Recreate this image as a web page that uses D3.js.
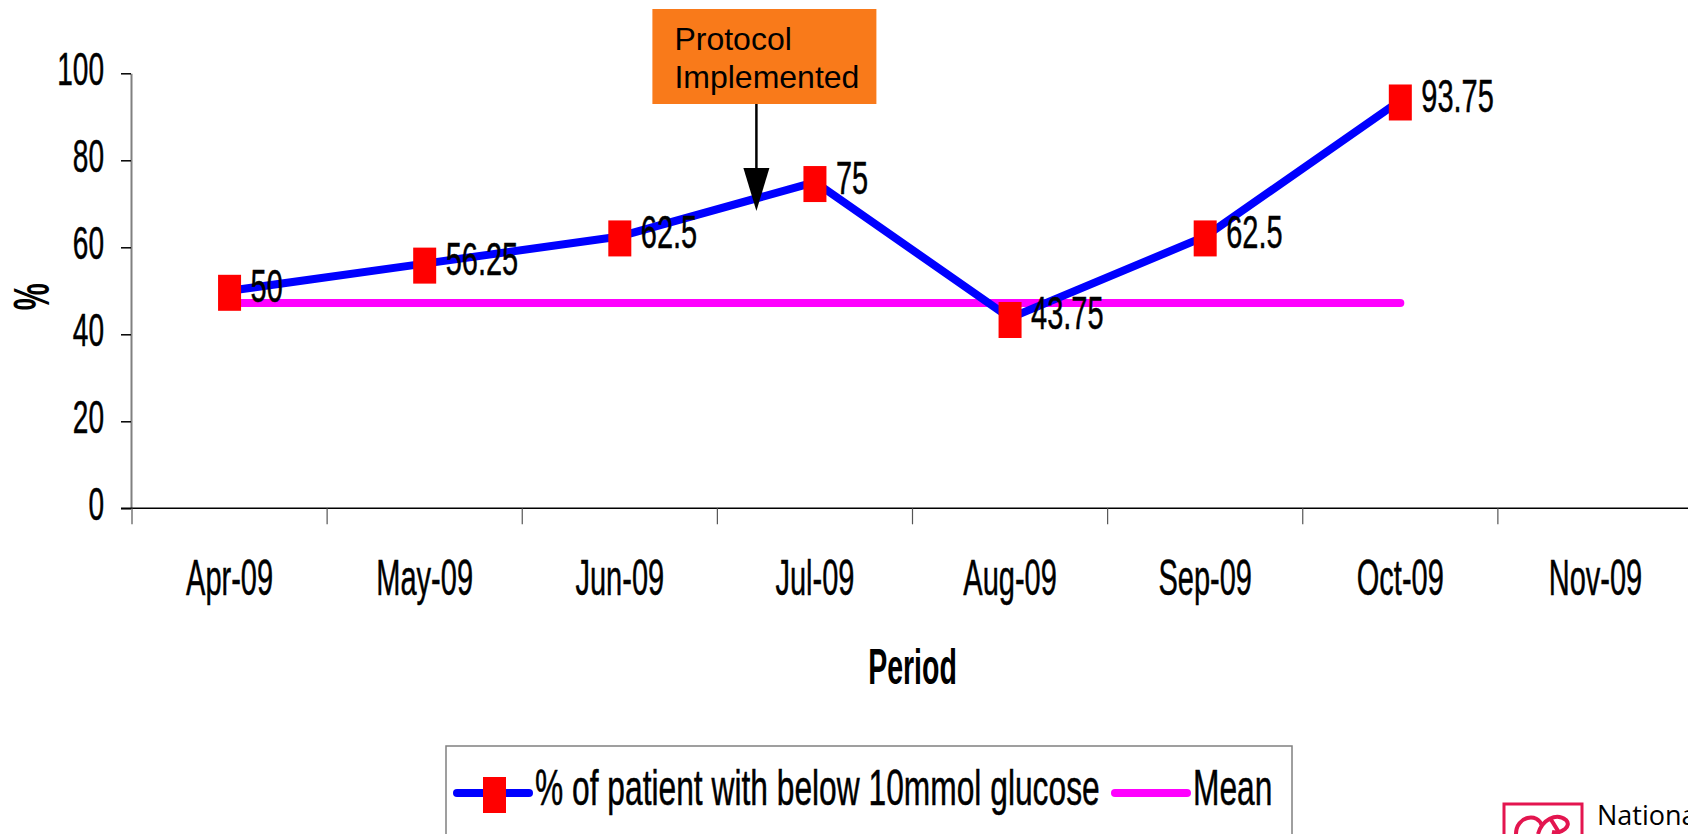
<!DOCTYPE html>
<html>
<head>
<meta charset="UTF-8">
<style>
  body { margin: 0; background: #fff; overflow: hidden; }
  svg { display: block; }
  text { font-family: "Liberation Sans", Arial, Helvetica, sans-serif; fill: #000; }
  text.narrow { stroke: #000; stroke-width: 0.5px; }
</style>
</head>
<body>
<svg></svg>
<script src="https://d3js.org/d3.v7.min.js"></script>
<script>

// data
const periods = ["Apr-09", "May-09", "Jun-09", "Jul-09", "Aug-09", "Sep-09", "Oct-09", "Nov-09"];
const pctBelow10 = [50, 56.25, 62.5, 75, 43.75, 62.5, 93.75];
const meanValue = 47.2;
const yTicks = [0, 20, 40, 60, 80, 100];
const seriesNames = ["% of patient with below 10mmol glucose", "Mean"];
const noteLines = ["Protocol", "Implemented"];
const notePeriod = "Jun-09", noteOffset = 0.7;   // arrow sits 0.7 of the way Jun -> Jul

let width = 1688, height = 834;

let svg = d3.select("svg")
    .attr("width", width)
    .attr("height", height);

let x = d3.scaleBand().domain(periods).range([132, 1693]);
let y = d3.scaleLinear().domain([0, 100]).range([508.3, 73.3]);
let cx = d => x(d) + x.bandwidth() / 2;

// the original uses a very narrow font, so squeeze normal text horizontally
function label(g, px, py, str, size, sx, anchor, weight) {
    return g.append("text")
        .attr("class", weight ? null : "narrow")
        .attr("transform", `translate(${px},${py}) scale(${sx},1)`)
        .attr("text-anchor", anchor || "start")
        .style("font-size", size + "px")
        .style("font-weight", weight || "normal")
        .text(str);
}

// y axis
let yAxis = svg.append("g")
    .attr("transform", "translate(131,0)")
    .call(d3.axisLeft(y).tickValues(yTicks).tickSize(10).tickSizeOuter(0).tickFormat(""));
yAxis.select(".domain").attr("stroke", "#808080").attr("stroke-width", 2);
yAxis.selectAll(".tick line").attr("stroke", "#000").attr("stroke-width", 1.5);

yTicks.forEach(t => label(svg, 104, y(t) + 12, t, 46, 0.61, "end"));

// x axis: plain line with ticks on the category boundaries
let xAxis = svg.append("g");
xAxis.append("line")
    .attr("x1", 121).attr("x2", width)
    .attr("y1", y(0)).attr("y2", y(0))
    .attr("stroke", "#000").attr("stroke-width", 1.5);

xAxis.selectAll("line.tick")
    .data(periods)
    .enter().append("line")
    .attr("class", "tick")
    .attr("x1", d => x(d)).attr("x2", d => x(d))
    .attr("y1", y(0)).attr("y2", y(0) + 16)
    .attr("stroke", "#555").attr("stroke-width", 1.2);

periods.forEach(p => label(xAxis, cx(p), 595, p, 50, 0.58, "middle"));

// axis titles
label(svg, (x.range()[0] + x.range()[1]) / 2, 684, "Period", 50, 0.57, "middle", "bold");
svg.append("text")
    .attr("transform", `translate(49,${(y(0) + y(100)) / 2 + 6}) rotate(-90) scale(0.61,1)`)
    .attr("text-anchor", "middle")
    .style("font-size", "50px")
    .style("font-weight", "bold")
    .text("%");

// mean line
svg.append("line")
    .attr("x1", cx(periods[0]))
    .attr("x2", cx(periods[pctBelow10.length - 1]))
    .attr("y1", y(meanValue)).attr("y2", y(meanValue))
    .attr("stroke", "#ff00ff")
    .attr("stroke-width", 8)
    .attr("stroke-linecap", "round");

// main series
let line = d3.line()
    .x((d, i) => cx(periods[i]))
    .y(d => y(d));

svg.append("path")
    .datum(pctBelow10)
    .attr("d", line)
    .attr("fill", "none")
    .attr("stroke", "#0000ff")
    .attr("stroke-width", 8)
    .attr("stroke-linejoin", "round");

svg.selectAll("rect.marker")
    .data(pctBelow10)
    .enter().append("rect")
    .attr("class", "marker")
    .attr("x", (d, i) => cx(periods[i]) - 11.5)
    .attr("y", d => y(d) + 2 - 18)
    .attr("width", 23)
    .attr("height", 36)
    .attr("fill", "#ff0000");

pctBelow10.forEach((v, i) => label(svg, cx(periods[i]) + 21, y(v) + 11.5, v, 46, 0.63));

// annotation
let ax = cx(notePeriod) + noteOffset * x.step();
let note = svg.append("g");
note.append("rect")
    .attr("x", ax - 104).attr("y", 9)
    .attr("width", 224).attr("height", 95)
    .attr("fill", "#f97a1a");
noteLines.forEach((s, i) => note.append("text")
    .attr("x", ax - 82)
    .attr("y", 50 + i * 38)
    .style("font-size", "32px")
    .text(s));
note.append("line")
    .attr("x1", ax).attr("x2", ax)
    .attr("y1", 104).attr("y2", 170)
    .attr("stroke", "#000").attr("stroke-width", 2.5);
note.append("path")
    .attr("d", `M${ax - 13},168 L${ax + 13},168 L${ax},211 Z`)
    .attr("fill", "#000");

// legend
let legend = svg.append("g");
legend.append("rect")
    .attr("x", 446).attr("y", 746)
    .attr("width", 846).attr("height", 120)
    .attr("fill", "#fff")
    .attr("stroke", "#808080")
    .attr("stroke-width", 1.5);
legend.append("line")
    .attr("x1", 457).attr("x2", 529)
    .attr("y1", 793).attr("y2", 793)
    .attr("stroke", "#0000ff").attr("stroke-width", 8).attr("stroke-linecap", "round");
legend.append("rect")
    .attr("x", 483).attr("y", 777)
    .attr("width", 23).attr("height", 36)
    .attr("fill", "#ff0000");
label(legend, 535, 805, seriesNames[0], 50, 0.635);
legend.append("line")
    .attr("x1", 1115).attr("x2", 1187)
    .attr("y1", 793).attr("y2", 793)
    .attr("stroke", "#ff00ff").attr("stroke-width", 8).attr("stroke-linecap", "round");
label(legend, 1193, 805, seriesNames[1], 50, 0.635);

// logo in the corner
let logo = svg.append("g");
logo.append("rect")
    .attr("x", 1504).attr("y", 804)
    .attr("width", 78).attr("height", 44)
    .attr("fill", "none")
    .attr("stroke", "#e3154f").attr("stroke-width", 3);
logo.append("path")
    .attr("d", "M1516,834 C1516,816 1538,812 1542,826 M1538,834 C1542,820 1556,812 1566,820 C1572,826 1562,834 1552,832 M1550,818 L1560,834")
    .attr("fill", "none")
    .attr("stroke", "#e3154f").attr("stroke-width", 4);
logo.append("text")
    .attr("x", 1597).attr("y", 825)
    .style("font-family", "'Open Sans', 'DejaVu Sans', sans-serif")
    .style("font-size", "27px")
    .text("National");

</script>
</body>
</html>
